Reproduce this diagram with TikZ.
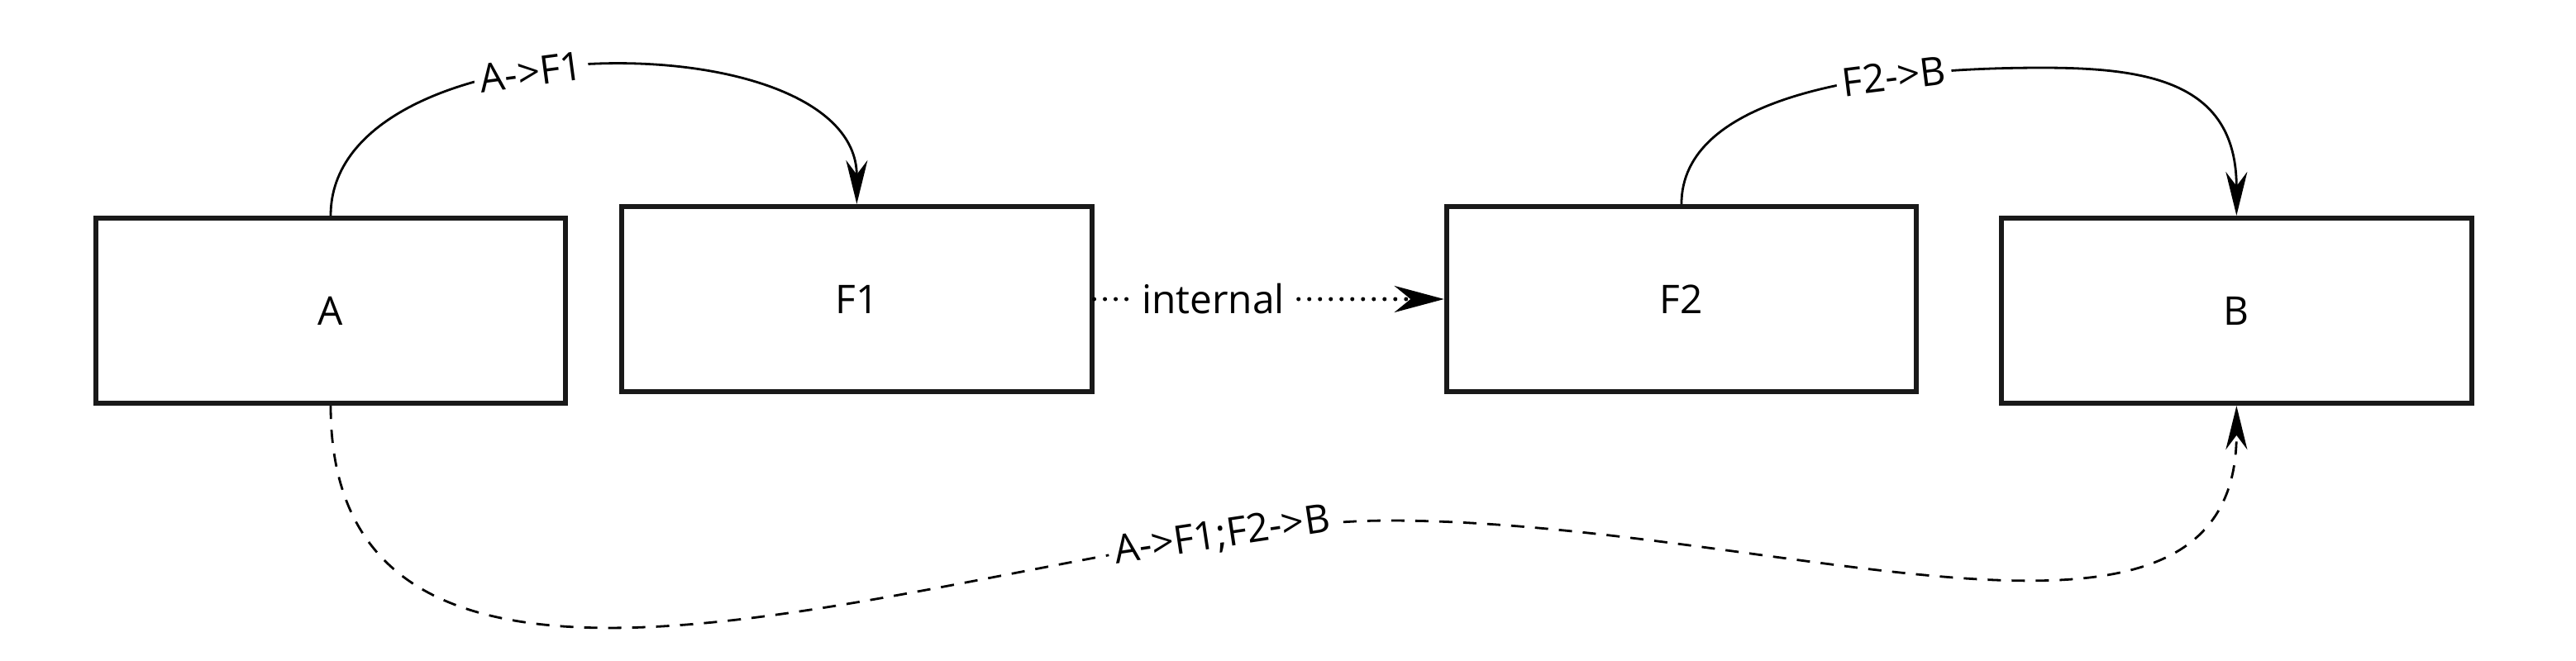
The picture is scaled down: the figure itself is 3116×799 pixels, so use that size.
\documentclass[tikz,border=0pt]{standalone}
\usepackage{fontspec}
\setmainfont{Open Sans}
\usetikzlibrary{arrows.meta, positioning}

\begin{document}
\begin{tikzpicture}[x=0.01cm,y=-0.01cm,>={Stealth[length=0.53cm,width=0.26cm]},node distance=0.62cm,font=\fontsize{13.6pt}{16pt}\selectfont]

	\tikzstyle{box}=[rectangle,draw=black!90,line width=0.06cm,minimum width=5.68cm,minimum height=2.24cm,inner sep=0pt]
	\tikzstyle{call}=[->,line width=0.028cm]
	\tikzstyle{merged call}=[call,dash pattern=on 0.16cm off 0.13cm]
	\tikzstyle{internal call}=[-{Stealth[length=0.6cm,width=0.32cm]},line width=0.05cm,line cap=round,dash pattern=on 0pt off 0.13cm]
	\tikzstyle{tag}=[fill=white,inner sep=2pt]

	\useasboundingbox (0,0) rectangle (3116,799);

	\node[box] (A) at (400,376) {A};
	\node[box] (F1) [right=of A,yshift=0.14cm] {F1};
	\node[box] (F2) [right=4.23cm of F1] {F2};
	\node[box] (B)  [right=0.97cm of F2,yshift=-0.14cm] {B};

	\coordinate (crest) at (2470,82);
	\coordinate (ridge) at (1680,630);

	\draw[call] (A.north) .. controls +(0,-235) and +(0,-225) .. node[tag,sloped,pos=0.42] {A->F1} (F1.north);
	\draw[call] (F2.north) .. controls +(0,-127) and +(-220,0) .. node[tag,sloped,pos=0.72] {F2->B} (crest)
		.. controls +(130,0) and +(0,-161) .. (B.north);
	\draw[internal call] (F1) -- node[tag,pos=0.34,inner sep=3pt] {internal} (F2);
	% both calls in one go
	\draw[merged call] (A.south) .. controls +(0,509) and +(-430,0) .. node[tag,sloped,pos=0.86] {A->F1;F2->B} (ridge)
		.. controls +(470,0) and +(0,359) .. (B.south);

\end{tikzpicture}
\end{document}
